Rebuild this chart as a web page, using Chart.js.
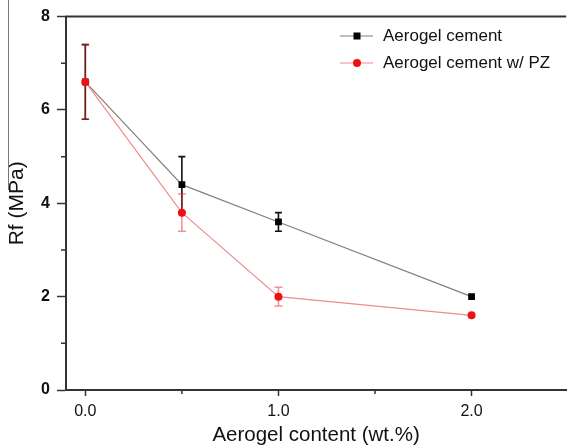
<!DOCTYPE html>
<html>
<head>
<meta charset="utf-8">
<script src="https://cdn.jsdelivr.net/npm/chart.js@4/dist/chart.umd.min.js"></script>
<style>
  html, body { margin: 0; padding: 0; background: #fff; }
  canvas { display: block; }
</style>
</head>
<body>
<canvas id="c" width="571" height="447"></canvas>
<script>
// data
const content = [0, 0.5, 1.0, 2.0];
const cement = [6.6, 4.4, 3.6, 2.0];
const cementErr = [0.8, 0.6, 0.2, 0];
const cementPz = [6.6, 3.8, 2.0, 1.6];
const cementPzErr = [0.8, 0.4, 0.2, 0];

const xTicks = [0, 0.5, 1.0, 1.5, 2.0];
const yTicks = [0, 1, 2, 3, 4, 5, 6, 7, 8];

const FONT = "'Liberation Sans', Arial, sans-serif";
const AXIS = '#333';

function points(ys) {
  return content.map((x, i) => ({ x: x, y: ys[i] }));
}

const errs = [
  { data: cement, err: cementErr, color: '#111', cap: 3.5 },
  { data: cementPz, err: cementPzErr, color: 'rgba(235,40,40,0.5)', cap: 4 }
];

const extras = {
  id: 'extras',
  beforeDatasetsDraw(chart) {
    const { ctx, scales: { x, y } } = chart;
    ctx.save();
    ctx.lineWidth = 1.6;
    errs.forEach(s => {
      ctx.strokeStyle = s.color;
      s.data.forEach((v, i) => {
        if (!s.err[i]) return;
        const px = x.getPixelForValue(content[i]);
        const top = y.getPixelForValue(v + s.err[i]);
        const bot = y.getPixelForValue(v - s.err[i]);
        ctx.beginPath();
        ctx.moveTo(px, top); ctx.lineTo(px, bot);
        ctx.moveTo(px - s.cap, top); ctx.lineTo(px + s.cap, top);
        ctx.moveTo(px - s.cap, bot); ctx.lineTo(px + s.cap, bot);
        ctx.stroke();
      });
    });
    ctx.restore();
  },
  afterDraw(chart) {
    const { ctx, chartArea: a, scales: { x, y } } = chart;
    ctx.save();
    // top frame line
    ctx.strokeStyle = AXIS;
    ctx.lineWidth = 2;
    ctx.beginPath();
    ctx.moveTo(a.left - 1, a.top); ctx.lineTo(a.right, a.top);
    ctx.stroke();
    // minor ticks
    ctx.lineWidth = 1.5;
    ctx.beginPath();
    [1, 3, 5, 7].forEach(v => {
      const py = y.getPixelForValue(v);
      ctx.moveTo(a.left - 5, py); ctx.lineTo(a.left, py);
    });
    [0.5, 1.5].forEach(v => {
      const px = x.getPixelForValue(v);
      ctx.moveTo(px, a.bottom); ctx.lineTo(px, a.bottom + 4);
    });
    ctx.stroke();
    // stray scan line at the left edge
    ctx.strokeStyle = '#777';
    ctx.lineWidth = 1;
    ctx.beginPath();
    ctx.moveTo(8.5, 0); ctx.lineTo(8.5, 190);
    ctx.stroke();
    // legend
    const rows = [36, 63];
    chart.data.datasets.forEach((ds, i) => {
      const ly = rows[i];
      ctx.strokeStyle = ds.borderColor;
      ctx.lineWidth = 1.2;
      ctx.beginPath();
      ctx.moveTo(340, ly); ctx.lineTo(373, ly);
      ctx.stroke();
      ctx.fillStyle = ds.pointBackgroundColor;
      if (ds.pointStyle === 'rect') {
        ctx.fillRect(353.5, ly - 3.5, 7, 7);
      } else {
        ctx.beginPath();
        ctx.arc(357, ly, 4, 0, Math.PI * 2);
        ctx.fill();
      }
      ctx.fillStyle = '#111';
      ctx.font = '17px ' + FONT;
      ctx.textBaseline = 'middle';
      ctx.fillText(ds.label, 383, ly);
    });
    ctx.restore();
  }
};

new Chart(document.getElementById('c'), {
  type: 'line',
  data: {
    datasets: [{
      label: 'Aerogel cement',
      data: points(cement),
      borderColor: '#808080',
      borderWidth: 1.2,
      pointStyle: 'rect',
      pointRadius: 4.8,
      pointBackgroundColor: '#000',
      pointBorderWidth: 0,
      order: 1
    }, {
      label: 'Aerogel cement w/ PZ',
      data: points(cementPz),
      borderColor: '#f08c8c',
      borderWidth: 1.2,
      pointStyle: 'circle',
      pointRadius: 4,
      pointBackgroundColor: '#ee1111',
      pointBorderWidth: 0,
      order: 0
    }]
  },
  options: {
    responsive: false,
    devicePixelRatio: 1,
    animation: false,
    layout: { padding: { top: 16, right: 0, bottom: 0, left: 0 } },
    plugins: { legend: { display: false }, tooltip: { enabled: false } },
    scales: {
      x: {
        type: 'linear',
        min: -0.1,
        max: 2.49,
        afterBuildTicks: s => { s.ticks = xTicks.map(v => ({ value: v })); },
        afterFit: s => { s.height = 57; },
        grid: {
          drawOnChartArea: false,
          tickLength: 6,
          tickWidth: 1.5,
          tickColor: c => (c.tick && Number.isInteger(c.tick.value)) ? AXIS : 'transparent'
        },
        border: { display: true, color: AXIS, width: 2 },
        ticks: {
          autoSkip: false,
          maxRotation: 0,
          padding: 6,
          color: '#111',
          font: { family: FONT, size: 16 },
          callback: v => Number.isInteger(v) ? v.toFixed(1) : ''
        },
        title: {
          display: true,
          text: 'Aerogel content (wt.%)',
          color: '#111',
          font: { family: FONT, size: 20.5, lineHeight: 1.1 },
          padding: { top: 0, bottom: 0 }
        }
      },
      y: {
        min: 0,
        max: 8,
        afterBuildTicks: s => { s.ticks = yTicks.map(v => ({ value: v })); },
        afterFit: s => { s.width = 66; },
        grid: {
          drawOnChartArea: false,
          tickLength: 9,
          tickWidth: 1.5,
          tickColor: c => (c.tick && c.tick.value % 2 === 0) ? AXIS : 'transparent'
        },
        border: { display: true, color: AXIS, width: 2 },
        ticks: {
          autoSkip: false,
          padding: 7,
          color: '#111',
          font: { family: FONT, size: 16, weight: 'bold' },
          callback: v => v % 2 === 0 ? String(v) : ''
        },
        title: {
          display: true,
          text: 'Rf (MPa)',
          color: '#111',
          font: { family: FONT, size: 21, lineHeight: 1.1 },
          padding: { top: 6, bottom: 0 }
        }
      }
    }
  },
  plugins: [extras]
});
</script>
</body>
</html>
